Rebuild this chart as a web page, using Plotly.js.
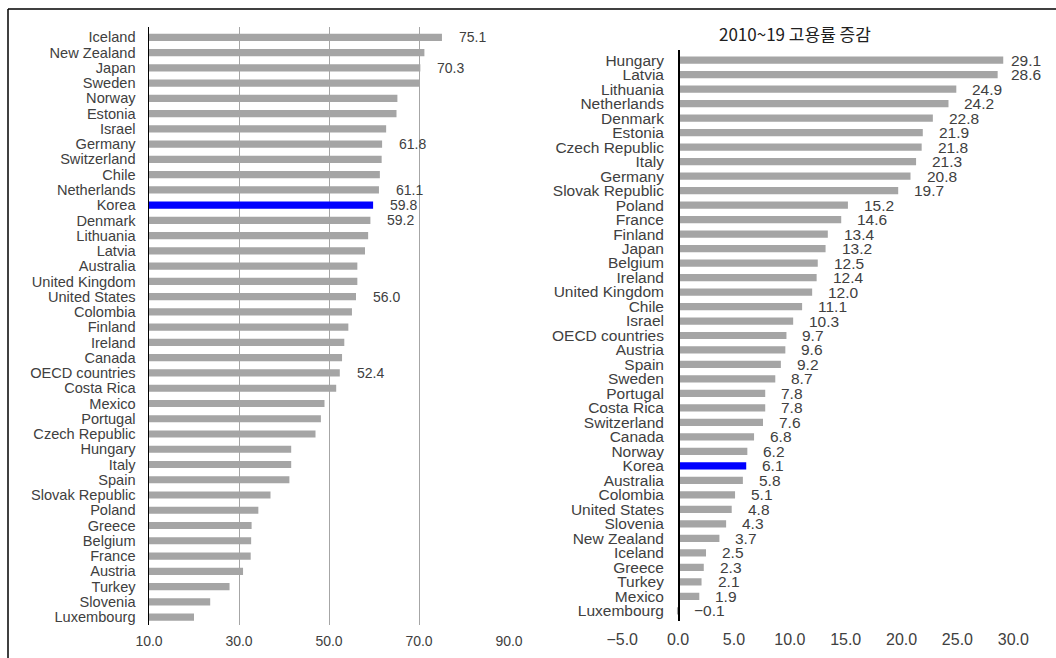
<!DOCTYPE html>
<html>
<head>
<meta charset="utf-8">
<script src="https://cdn.plot.ly/plotly-3.0.1.min.js"></script>
<style>
  html, body { margin: 0; padding: 0; background: #fff; }
  #chart { width: 1056px; height: 658px; }
</style>
</head>
<body>
<div id="chart"></div>
<script>
// Employment rate by country (left panel), top to bottom
const levelCountries = [
  'Iceland', 'New Zealand', 'Japan', 'Sweden', 'Norway', 'Estonia', 'Israel',
  'Germany', 'Switzerland', 'Chile', 'Netherlands', 'Korea', 'Denmark',
  'Lithuania', 'Latvia', 'Australia', 'United Kingdom', 'United States',
  'Colombia', 'Finland', 'Ireland', 'Canada', 'OECD countries', 'Costa Rica',
  'Mexico', 'Portugal', 'Czech Republic', 'Hungary', 'Italy', 'Spain',
  'Slovak Republic', 'Poland', 'Greece', 'Belgium', 'France', 'Austria',
  'Turkey', 'Slovenia', 'Luxembourg'
];
const levelValues = [
  75.1, 71.2, 70.3, 70.2, 65.2, 65.0, 62.7,
  61.8, 61.7, 61.3, 61.1, 59.8, 59.2,
  58.7, 58.0, 56.3, 56.3, 56.0,
  55.1, 54.3, 53.4, 52.9, 52.4, 51.6,
  49.0, 48.2, 47.0, 41.6, 41.6, 41.2,
  37.0, 34.3, 32.8, 32.7, 32.6, 30.9,
  27.9, 23.6, 20.0
];
// Bars in the left panel that carry a value label
const levelLabelled = [
  'Iceland', 'Japan', 'Germany', 'Netherlands', 'Korea', 'Denmark',
  'United States', 'OECD countries'
];
const levelTicks = [10, 30, 50, 70, 90];

// Change in employment rate 2010~19 (right panel), top to bottom
const changeTitle = '2010~19 고용률 증감';
const changeCountries = [
  'Hungary', 'Latvia', 'Lithuania', 'Netherlands', 'Denmark', 'Estonia',
  'Czech Republic', 'Italy', 'Germany', 'Slovak Republic', 'Poland', 'France',
  'Finland', 'Japan', 'Belgium', 'Ireland', 'United Kingdom', 'Chile', 'Israel',
  'OECD countries', 'Austria', 'Spain', 'Sweden', 'Portugal', 'Costa Rica',
  'Switzerland', 'Canada', 'Norway', 'Korea', 'Australia', 'Colombia',
  'United States', 'Slovenia', 'New Zealand', 'Iceland', 'Greece', 'Turkey',
  'Mexico', 'Luxembourg'
];
const changeValues = [
  29.1, 28.6, 24.9, 24.2, 22.8, 21.9,
  21.8, 21.3, 20.8, 19.7, 15.2, 14.6,
  13.4, 13.2, 12.5, 12.4, 12.0, 11.1, 10.3,
  9.7, 9.6, 9.2, 8.7, 7.8, 7.8,
  7.6, 6.8, 6.2, 6.1, 5.8, 5.1,
  4.8, 4.3, 3.7, 2.5, 2.3, 2.1,
  1.9, -0.1
];
const changeTicks = [-5, 0, 5, 10, 15, 20, 25, 30];

const highlight = 'Korea';
const GREY = '#a5a5a5';
const BLUE = '#0000ff';
const TEXT = '#404040';
const FONT = 'Liberation Sans, Arial, sans-serif';

const W = 1056, H = 658;
const px = v => v / W;          // horizontal pixel -> paper fraction
const py = v => 1 - v / H;      // vertical pixel (from top) -> paper fraction

// Plot-area geometry in pixels
const L = { x0: 149, x1: 509, y0: 27.3, y1: 624.7, min: 10, max: 90 };
const R = { x0: 622.2, x1: 1013.3, y0: 49.7, y1: 621.3, min: -5, max: 30 };

const colorsFor = names => names.map(n => n === highlight ? BLUE : GREY);
const fmt = v => (v < 0 ? '\u2212' : '') + Math.abs(v).toFixed(1);

const traces = [
  {
    type: 'bar', orientation: 'h',
    x: levelValues, y: levelCountries,
    marker: { color: colorsFor(levelCountries) },
    width: 0.47,
    xaxis: 'x', yaxis: 'y',
    hoverinfo: 'x+y'
  },
  {
    type: 'bar', orientation: 'h',
    x: changeValues, y: changeCountries,
    marker: { color: colorsFor(changeCountries) },
    width: 0.5,
    xaxis: 'x2', yaxis: 'y2',
    hoverinfo: 'x+y'
  }
];

const annotations = [];

// value labels, left panel
levelCountries.forEach((name, i) => {
  if (!levelLabelled.includes(name)) return;
  annotations.push({
    xref: 'x', yref: 'y', x: levelValues[i], y: name,
    text: fmt(levelValues[i]),
    showarrow: false, xanchor: 'left', yanchor: 'middle', xshift: 15,
    font: { family: FONT, size: 14, color: TEXT }
  });
});

// value labels, right panel (kept inside the right edge)
const rScale = (R.x1 - R.x0) / (R.max - R.min);
changeCountries.forEach((name, i) => {
  const v = changeValues[i];
  const endPx = R.x0 + (Math.max(v, 0) - R.min) * rScale;
  const shift = Math.min(14, 1009 - endPx);
  annotations.push({
    xref: 'x2', yref: 'y2', x: Math.max(v, 0), y: name,
    text: fmt(v),
    showarrow: false, xanchor: 'left', yanchor: 'middle', xshift: shift,
    font: { family: FONT, size: 15.5, color: TEXT }
  });
});

// panel title
annotations.push({
  xref: 'paper', yref: 'paper', x: px(795), y: py(33),
  text: changeTitle, showarrow: false, xanchor: 'center', yanchor: 'middle',
  font: { family: 'Noto Sans CJK KR, Liberation Sans, sans-serif', size: 17, color: '#202020' }
});

const shapes = [
  // outer frame: top and left edges
  { type: 'line', xref: 'paper', yref: 'paper', x0: px(8), x1: 1, y0: py(9), y1: py(9),
    line: { color: '#000', width: 1.5 } },
  { type: 'line', xref: 'paper', yref: 'paper', x0: px(8), x1: px(8), y0: py(9), y1: 0,
    line: { color: '#000', width: 1.5 } }
];

const layout = {
  width: W, height: H,
  margin: { l: 0, r: 0, t: 0, b: 0 },
  paper_bgcolor: '#fff', plot_bgcolor: 'rgba(0,0,0,0)',
  showlegend: false,
  font: { family: FONT, color: TEXT },
  xaxis: {
    domain: [px(L.x0), px(L.x1)],
    range: [L.min, L.max],
    tickmode: 'array',
    tickvals: levelTicks,
    ticktext: levelTicks.map(fmt),
    showgrid: true, gridcolor: '#a6a6a6', gridwidth: 1,
    zeroline: false, showline: false, ticks: '',
    ticklabelstandoff: 6,
    tickfont: { family: FONT, size: 14, color: TEXT },
    fixedrange: true
  },
  yaxis: {
    domain: [py(L.y1), py(L.y0)],
    type: 'category', autorange: 'reversed',
    tickmode: 'array', tickvals: levelCountries, ticktext: levelCountries,
    showline: true, linecolor: '#000', linewidth: 1.5,
    showgrid: false, zeroline: false, ticks: '',
    ticklabelstandoff: 9,
    tickfont: { family: FONT, size: 14.6, color: TEXT },
    fixedrange: true
  },
  xaxis2: {
    domain: [px(R.x0), px(R.x1)],
    anchor: 'y2',
    range: [R.min, R.max],
    tickmode: 'array',
    tickvals: changeTicks,
    ticktext: changeTicks.map(fmt),
    showgrid: false, zeroline: false, showline: false, ticks: '',
    ticklabelstandoff: 7,
    tickfont: { family: FONT, size: 16, color: TEXT },
    fixedrange: true
  },
  yaxis2: {
    domain: [py(R.y1), py(R.y0)],
    anchor: 'free',
    position: px(R.x0 + (0 - R.min) * rScale),
    type: 'category', autorange: 'reversed',
    tickmode: 'array', tickvals: changeCountries, ticktext: changeCountries,
    showline: true, linecolor: '#000', linewidth: 1.5,
    showgrid: false, zeroline: false, ticks: '',
    ticklabelstandoff: 11,
    tickfont: { family: FONT, size: 15.5, color: TEXT },
    fixedrange: true
  },
  annotations: annotations,
  shapes: shapes
};

Plotly.newPlot('chart', traces, layout, { displayModeBar: false, staticPlot: true });
</script>
</body>
</html>
